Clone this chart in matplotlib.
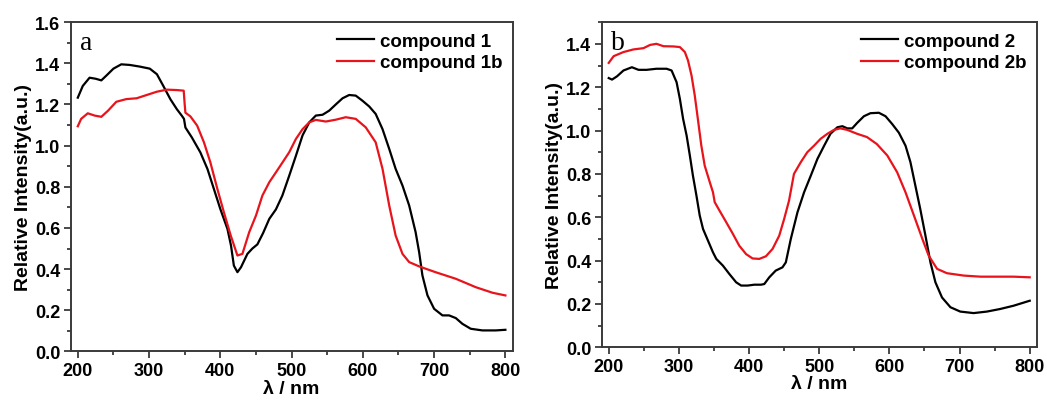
import matplotlib
matplotlib.use("Agg")
import matplotlib.pyplot as plt
from matplotlib.ticker import MultipleLocator

# ---------------- data ----------------
c1_x = [200, 207, 216.5, 225, 233, 240, 250, 261, 273, 287, 301, 311, 320, 330, 339, 346, 349, 351,
        360, 372, 382, 391, 400, 410, 415, 419, 424, 429, 438, 445, 452, 460, 468.7, 478, 487,
        496.7, 506, 515.4, 524.8, 534, 543.5, 552.8, 562, 571.5, 580.8, 590, 599.5, 609, 618,
        627.6, 637, 646, 655.6, 665, 674, 679, 683.6, 690.7, 700, 711.7, 721, 730.4, 739.7,
        751.4, 767.8, 786.5, 800]
c1_y = [1.233, 1.29, 1.33, 1.325, 1.317, 1.34, 1.374, 1.395, 1.392, 1.384, 1.374, 1.347, 1.29,
        1.225, 1.177, 1.145, 1.13, 1.088, 1.04, 0.967, 0.886, 0.789, 0.692, 0.595, 0.514, 0.417,
        0.385, 0.409, 0.474, 0.50, 0.52, 0.575, 0.644, 0.69, 0.757, 0.854, 0.95, 1.05, 1.113,
        1.146, 1.15, 1.17, 1.20, 1.23, 1.246, 1.243, 1.218, 1.19, 1.154, 1.08, 0.984, 0.887,
        0.806, 0.709, 0.58, 0.482, 0.369, 0.272, 0.207, 0.175, 0.175, 0.162, 0.134, 0.11,
        0.102, 0.102, 0.105]

c1b_x = [200, 204.7, 214, 223.6, 233, 242.5, 254, 268, 282.5, 296.7, 311, 325, 339, 348.6, 350,
         351, 358, 367.5, 377, 386, 395.8, 405, 414.6, 424, 431, 440.6, 450, 459, 468.7, 478,
         487.4, 496.7, 506, 515.4, 524.8, 534, 548, 562, 576, 590, 604, 618, 627.6, 637, 646,
         655.6, 665, 679, 702, 730.4, 758.5, 782, 800]
c1b_y = [1.094, 1.13, 1.157, 1.146, 1.14, 1.17, 1.213, 1.226, 1.23, 1.246, 1.262, 1.272, 1.27,
         1.267, 1.20, 1.16, 1.142, 1.097, 1.016, 0.919, 0.79, 0.676, 0.563, 0.466, 0.474, 0.58,
         0.66, 0.757, 0.822, 0.87, 0.919, 0.968, 1.032, 1.08, 1.113, 1.125, 1.117, 1.126,
         1.138, 1.13, 1.089, 1.016, 0.887, 0.709, 0.563, 0.474, 0.434, 0.413, 0.385, 0.353,
         0.312, 0.285, 0.272]

c2_x = [200, 204.7, 211.8, 221, 233, 242.5, 254, 268, 282.5, 289.6, 296.7, 301.4, 306, 311,
        315.6, 320, 325, 329.7, 334.4, 341.5, 348.6, 353.3, 362.7, 372, 381.6, 388.7, 398,
        407.5, 417, 421.7, 428.8, 438, 447.6, 452.4, 459.5, 469, 478.4, 488, 497.4, 507, 516,
        525.8, 533, 540, 547, 554, 563.7, 573, 585, 594.5, 604, 613.5, 623, 630, 637, 644,
        651.4, 658.5, 665.6, 675, 687, 701, 720, 739, 758, 777, 800]
c2_y = [1.242, 1.235, 1.25, 1.277, 1.292, 1.28, 1.28, 1.285, 1.285, 1.277, 1.223, 1.146, 1.054,
        0.977, 0.885, 0.792, 0.70, 0.608, 0.546, 0.492, 0.438, 0.408, 0.377, 0.338, 0.30,
        0.285, 0.285, 0.289, 0.289, 0.292, 0.323, 0.354, 0.369, 0.392, 0.50, 0.623, 0.715,
        0.792, 0.869, 0.93, 0.985, 1.015, 1.02, 1.01, 1.01, 1.035, 1.066, 1.08, 1.082, 1.066,
        1.03, 0.99, 0.93, 0.854, 0.746, 0.638, 0.515, 0.392, 0.30, 0.23, 0.185, 0.165, 0.158,
        0.165, 0.177, 0.192, 0.215]

c2b_x = [200, 207, 221, 235, 249.5, 259, 268, 278, 292, 301.4, 308.5, 313, 318, 322.6, 327,
         332, 336.8, 344, 348.6, 351, 358, 367.5, 377, 386, 395.8, 405, 414.6, 424, 433.5,
         443, 450, 457, 464, 473.7, 483, 492.6, 502, 511.6, 521, 530, 540, 554, 568, 582, 597,
         611, 623, 635, 647, 656, 668, 682, 706, 730, 753.6, 777, 800]
c2b_y = [1.312, 1.343, 1.362, 1.374, 1.38, 1.395, 1.40, 1.389, 1.388, 1.385, 1.362, 1.323,
         1.254, 1.162, 1.054, 0.93, 0.838, 0.762, 0.715, 0.67, 0.63, 0.577, 0.523, 0.469,
         0.43, 0.41, 0.408, 0.42, 0.454, 0.515, 0.592, 0.677, 0.80, 0.854, 0.90, 0.93, 0.962,
         0.985, 1.003, 1.01, 1.003, 0.985, 0.97, 0.938, 0.885, 0.808, 0.715, 0.608, 0.50,
         0.423, 0.362, 0.342, 0.331, 0.326, 0.326, 0.326, 0.323]

x_ticks = [200, 300, 400, 500, 600, 700, 800]
xlabel = "λ / nm"
ylabel = "Relative Intensity(a.u.)"

# ---------------- style ----------------
plt.rcParams['font.family'] = ['Liberation Sans', 'DejaVu Sans']
plt.rcParams['font.weight'] = 'bold'
RED = '#e8141c'
SPINE = '#3a3a3a'
TICK_FS = 13
LABEL_FS = 14
LEG_FS = 13.5

fig = plt.figure(figsize=(10.47, 4.06), dpi=100)
ax1 = fig.add_axes([0.0675, 0.132, 0.422, 0.811])
ax2 = fig.add_axes([0.5747, 0.142, 0.4155, 0.801])


def style(ax, ymax, ymaj_top, label):
    ax.set_xlim(190, 810)
    ax.set_ylim(0, ymax)
    ax.set_xticks(x_ticks)
    ax.xaxis.set_minor_locator(MultipleLocator(50))
    ax.yaxis.set_minor_locator(MultipleLocator(0.1))
    ax.set_yticks([i * 0.2 for i in range(int(round(ymaj_top / 0.2)) + 1)])
    ax.tick_params(which='both', direction='out', top=False, right=False,
                   color=SPINE, width=1.3, labelsize=TICK_FS, pad=2.5)
    ax.tick_params(which='major', length=5)
    ax.tick_params(which='minor', length=3)
    for lab in ax.get_xticklabels() + ax.get_yticklabels():
        lab.set_fontweight('bold')
    for sp in ax.spines.values():
        sp.set_color(SPINE)
        sp.set_linewidth(1.4)
    ax.set_xlabel(xlabel, fontsize=LABEL_FS, fontweight='bold', labelpad=0.5)
    ax.set_ylabel(ylabel, fontsize=LABEL_FS, fontweight='bold', labelpad=2)
    ax.text(0.022, 0.975, label, transform=ax.transAxes, ha='left', va='top',
            fontsize=20, family='Liberation Serif', fontweight='normal')
    ax.legend(loc='upper right', frameon=False,
              handlelength=2.0, handletextpad=0.3, labelspacing=0.25,
              borderaxespad=0.15, prop={'weight': 'bold', 'size': LEG_FS})


ax1.plot(c1_x, c1_y, color='black', lw=1.6, label='compound 1')
ax1.plot(c1b_x, c1b_y, color=RED, lw=1.6, label='compound 1b')
style(ax1, 1.6, 1.6, 'a')

ax2.plot(c2_x, c2_y, color='black', lw=1.6, label='compound 2')
ax2.plot(c2b_x, c2b_y, color=RED, lw=1.6, label='compound 2b')
style(ax2, 1.5, 1.4, 'b')

fig.savefig('out.png', dpi=100)
